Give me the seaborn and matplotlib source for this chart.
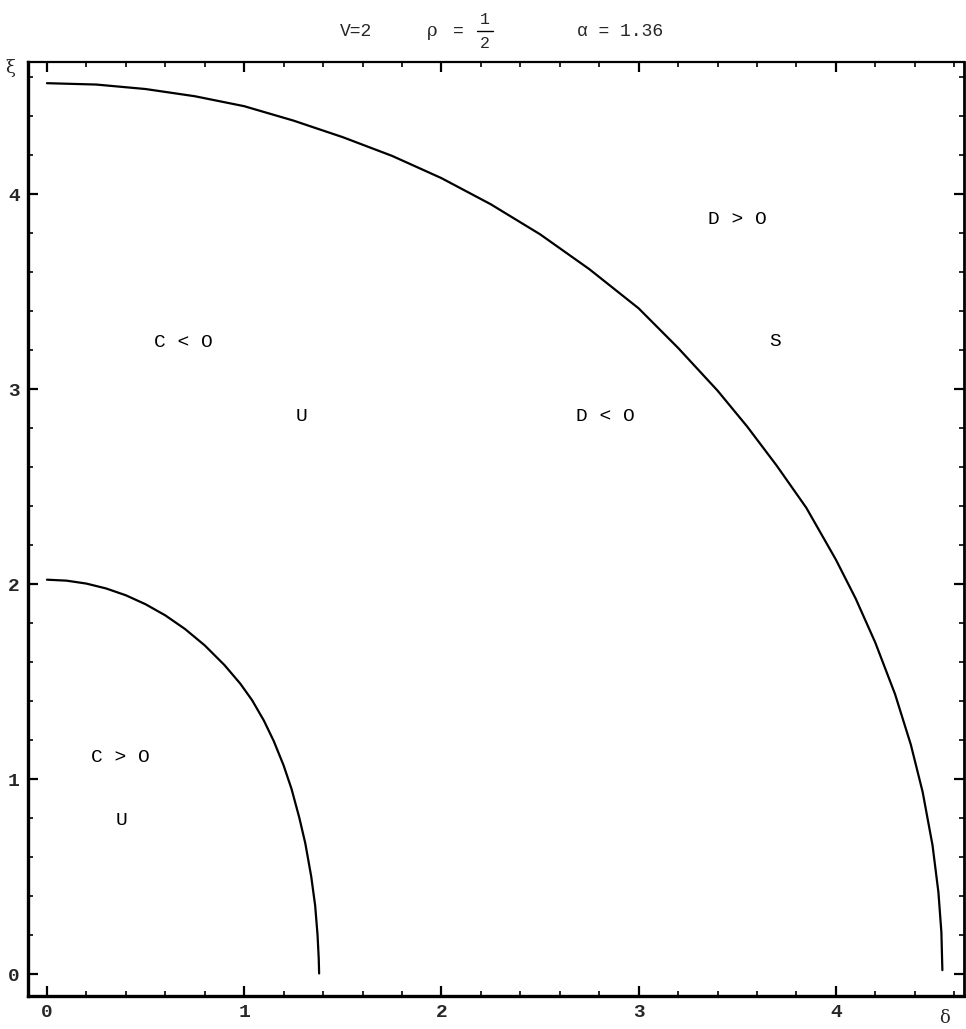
import matplotlib
matplotlib.use("Agg")
import matplotlib.pyplot as plt
from matplotlib.lines import Line2D
from matplotlib.ticker import MultipleLocator
import seaborn as sns
import pandas as pd

# curve points (delta, xi)
outer_delta = [0.00, 0.25, 0.50, 0.75, 1.00, 1.25, 1.50, 1.75, 2.00, 2.25, 2.50,
               2.75, 3.00, 3.20, 3.40, 3.55, 3.70, 3.85, 4.00, 4.10, 4.20, 4.30,
               4.38, 4.44, 4.49, 4.52, 4.535, 4.54]
outer_xi = [4.570, 4.563, 4.540, 4.503, 4.452, 4.378, 4.293, 4.197, 4.083, 3.949,
            3.795, 3.616, 3.415, 3.212, 2.993, 2.809, 2.608, 2.392, 2.126, 1.927,
            1.700, 1.436, 1.177, 0.934, 0.661, 0.419, 0.214, 0.02]

inner_delta = [0.00, 0.10, 0.20, 0.30, 0.40, 0.50, 0.60, 0.70, 0.80, 0.90, 0.98,
               1.04, 1.10, 1.15, 1.20, 1.24, 1.28, 1.31, 1.34, 1.36, 1.372, 1.378,
               1.38]
inner_xi = [2.023, 2.018, 2.003, 1.978, 1.943, 1.897, 1.840, 1.770, 1.686, 1.585,
            1.49, 1.405, 1.30, 1.195, 1.07, 0.95, 0.80, 0.67, 0.50, 0.35, 0.20,
            0.08, 0.003]

region_labels = ["C < O", "U", "D < O", "D > O", "S", "C > O", "U"]
label_delta = [0.69, 1.29, 2.83, 3.50, 3.69, 0.37, 0.38]
label_xi = [3.24, 2.86, 2.86, 3.87, 3.245, 1.11, 0.79]

df = pd.concat([
    pd.DataFrame({"delta": outer_delta, "xi": outer_xi, "curve": "outer"}),
    pd.DataFrame({"delta": inner_delta, "xi": inner_xi, "curve": "inner"}),
])

sns.set_style("ticks")
mono = ["Liberation Mono", "DejaVu Sans Mono", "DejaVu Sans"]
plt.rcParams["font.family"] = mono

fig = plt.figure(figsize=(9.66, 10.29), dpi=100)
ax = fig.add_axes([0.029, 0.032, 0.969, 0.908])

sns.lineplot(data=df, x="delta", y="xi", units="curve", estimator=None,
             sort=False, color="black", linewidth=1.6, ax=ax)
for ln in ax.lines:
    ln.set_solid_joinstyle("round")

for txt, dx, xy in zip(region_labels, label_delta, label_xi):
    ax.text(dx, xy, txt, ha="center", va="center", fontsize=14, color="black")

ax.set_xlim(-0.096, 4.65)
ax.set_ylim(-0.113, 4.68)
ax.xaxis.set_major_locator(MultipleLocator(1))
ax.xaxis.set_minor_locator(MultipleLocator(0.2))
ax.yaxis.set_major_locator(MultipleLocator(1))
ax.yaxis.set_minor_locator(MultipleLocator(0.2))
ax.tick_params(which="both", direction="in", top=True, right=True,
               color="black", labelsize=14)
ax.tick_params(which="major", length=7, width=1.6, pad=6)
ax.tick_params(which="minor", length=3.5, width=1.2)
for lab in ax.get_xticklabels() + ax.get_yticklabels():
    lab.set_fontweight("bold")
for s in ax.spines.values():
    s.set_color("black")
    s.set_linewidth(1.6)
ax.spines["left"].set_linewidth(2.4)
ax.spines["bottom"].set_linewidth(2.4)
ax.spines["right"].set_linewidth(2.0)
ax.set_xlabel("")
ax.set_ylabel("")

fig.text(10 / 966, 1 - 68 / 1029, "ξ", fontsize=13, ha="center", va="center",
         family=["DejaVu Serif"])
fig.text(945 / 966, 1 - 1018 / 1029, "δ", fontsize=13, ha="center", va="center",
         family=["DejaVu Serif"])

# title: V=2   rho = 1/2   alpha = 1.36
ty = 1 - 31 / 1029
fig.text(356 / 966, ty, "V=2", fontsize=13, ha="center", va="center")
fig.text(432 / 966, ty, "ρ", fontsize=13, ha="center", va="center",
         family=["DejaVu Serif"])
fig.text(458 / 966, ty, "=", fontsize=13, ha="center", va="center")
fig.text(485 / 966, 1 - 19 / 1029, "1", fontsize=12, ha="center", va="center")
fig.text(485 / 966, 1 - 43 / 1029, "2", fontsize=12, ha="center", va="center")
fig.add_artist(Line2D([477 / 966, 493 / 966], [ty, ty], color="black",
                      linewidth=1.0, transform=fig.transFigure))
fig.text(620 / 966, ty, "α = 1.36", fontsize=13, ha="center", va="center",
         family=["Liberation Mono", "DejaVu Serif"])

fig.savefig("out.png", dpi=100, facecolor="white")
